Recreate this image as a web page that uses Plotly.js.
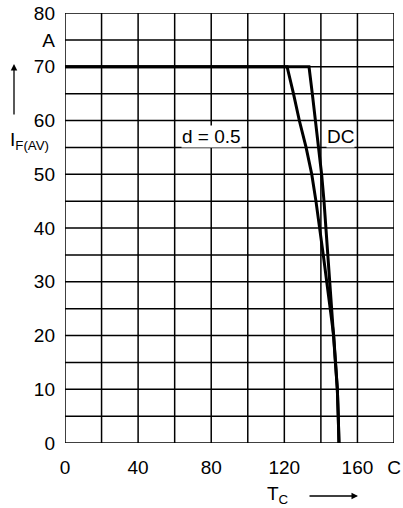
<!DOCTYPE html>
<html><head><meta charset="utf-8">
<script src="https://cdn.plot.ly/plotly-3.0.1.min.js"></script>
<style>html,body{margin:0;padding:0;background:#fff}#chart{width:403px;height:508px}</style>
</head><body><div id="chart"></div>
<script>
// DC curve (T_C in C, I_F(AV) in A)
const dcTc = [0, 133.5, 135.3, 137.1, 138.8, 140.4, 141.7, 142.8, 143.9, 145, 146.1, 147, 148, 149, 149.5, 149.9];
const dcIf = [70, 70, 65, 60, 55, 50, 45, 40, 35, 30, 25, 20, 15, 10, 5, 0];
// d = 0.5 curve
const dTc = [0, 121.5, 125, 128.2, 131.9, 135, 137.3, 139.5, 141.3, 143.2, 145, 147, 148, 149, 149.5, 149.9];
const dIf = [70, 70, 65, 60, 55, 50, 45, 40, 35, 30, 25, 20, 15, 10, 5, 0];
// axis ticks
const xTickVals = [0, 40, 80, 120, 160, 180];
const xTickText = ['0', '40', '80', '120', '160', 'C'];
const yTickVals = [0, 10, 20, 30, 40, 50, 60, 70, 75, 80];
const yTickText = ['0', '10', '20', '30', '40', '50', '60', '70', 'A', '80'];

const FONT = 'Liberation Sans, Arial, sans-serif';
const FS = 19;
const line = {color: '#000', width: 3};
const traces = [
  {x: dcTc, y: dcIf, type: 'scatter', mode: 'lines', line: line, hoverinfo: 'skip'},
  {x: dTc, y: dIf, type: 'scatter', mode: 'lines', line: line, hoverinfo: 'skip'}
];
const layout = {
  width: 403, height: 508,
  margin: {l: 65, r: 9, t: 13, b: 65},
  paper_bgcolor: '#fff', plot_bgcolor: '#fff',
  showlegend: false,
  font: {family: FONT, size: FS, color: '#000'},
  xaxis: {
    range: [0, 180], tickmode: 'array', tickvals: xTickVals, ticktext: xTickText,
    showgrid: false, zeroline: false, showline: false, ticks: '', ticklen: 0,
    ticklabelstandoff: 11,
    tickfont: {family: FONT, size: FS, color: '#000'}, fixedrange: true
  },
  yaxis: {
    range: [0, 80], tickmode: 'array', tickvals: yTickVals, ticktext: yTickText,
    showgrid: false, zeroline: false, showline: false, ticks: '', ticklen: 0,
    ticklabelstandoff: 9,
    tickfont: {family: FONT, size: FS, color: '#000'}, fixedrange: true
  },
  shapes: [],
  annotations: [
    {x: 80.4, y: 57.1, xref: 'x', yref: 'y', text: 'd = 0.5', showarrow: false,
     font: {family: FONT, size: FS}, bgcolor: '#fff', borderpad: 0},
    {x: 150.7, y: 57.1, xref: 'x', yref: 'y', text: 'DC', showarrow: false,
     font: {family: FONT, size: FS}, bgcolor: '#fff', borderpad: 0},
    {x: (8 - 65) / 329, y: (443 - 141) / 430, xref: 'paper', yref: 'paper', xanchor: 'left', yanchor: 'middle',
     text: 'I<sub>F(AV)</sub>', showarrow: false, font: {family: FONT, size: FS}},
    {x: (14 - 65) / 329, y: (443 - 64) / 430, xref: 'paper', yref: 'paper', text: '',
     showarrow: true, ax: 0, ay: 52, arrowhead: 2, arrowsize: 1, arrowwidth: 1.3, arrowcolor: '#000', standoff: 0},
    {x: (278 - 65) / 329, y: (443 - 495) / 430, xref: 'paper', yref: 'paper', xanchor: 'center', yanchor: 'middle',
     text: 'T<sub>C</sub>', showarrow: false, font: {family: FONT, size: FS}},
    {x: (358 - 65) / 329, y: (443 - 496) / 430, xref: 'paper', yref: 'paper', text: '',
     showarrow: true, ax: -50, ay: 0, arrowhead: 2, arrowsize: 1, arrowwidth: 1.3, arrowcolor: '#000', standoff: 0}
  ]
};
// grid lines (drawn from axis values)
for (let gx = 0; gx <= 180; gx += 20) {
  layout.shapes.push({type: 'line', xref: 'x', yref: 'y', x0: gx, x1: gx, y0: 0, y1: 80,
    line: {color: '#000', width: 1.5}, layer: 'below'});
}
for (let gy = 0; gy <= 80; gy += 5) {
  layout.shapes.push({type: 'line', xref: 'x', yref: 'y', x0: 0, x1: 180, y0: gy, y1: gy,
    line: {color: '#000', width: 1.5}, layer: 'below'});
}
Plotly.newPlot('chart', traces, layout, {staticPlot: true, displayModeBar: false});
</script>
</body></html>
